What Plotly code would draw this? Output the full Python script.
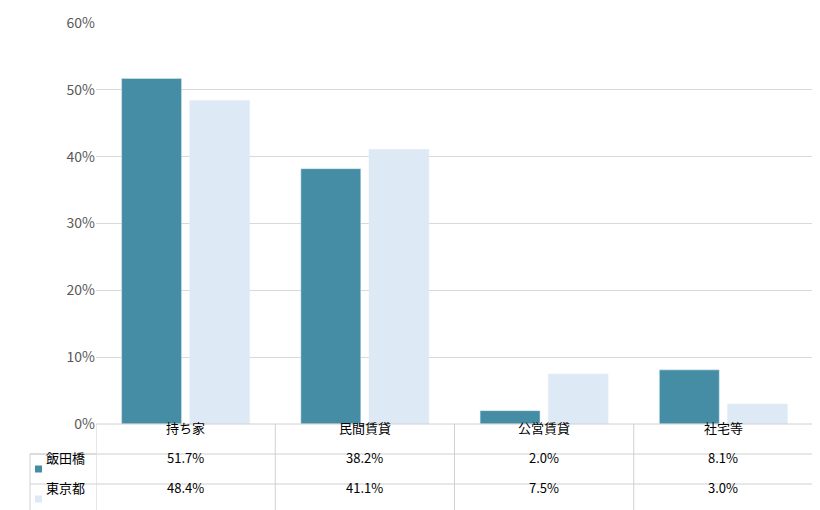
import plotly.graph_objects as go

categories = ["持ち家", "民間賃貸", "公営賃貸", "社宅等"]
series_names = ["飯田橋", "東京都"]
iidabashi = [51.7, 38.2, 2.0, 8.1]
tokyo = [48.4, 41.1, 7.5, 3.0]
colors = ["#458DA5", "#DDEAF5"]
font = "Noto Sans CJK JP"

x = list(range(len(categories)))
fig = go.Figure()
for name, vals, c in zip(series_names, [iidabashi, tokyo], colors):
    fig.add_bar(x=x, y=vals, name=name, marker_color=c, showlegend=False)

W, H = 820, 510
ml, mr, mt, mb = 88, 15, 15, 94
ph = H - mt - mb
pw = W - ml - mr
rowh = 30 / ph
left = (22 - ml) / pw
line = dict(color="#D0D0D0", width=1)
shapes = []
for i in range(4):
    y = -i * rowh
    x0 = 0 if i == 0 else left
    shapes.append(dict(type="line", xref="paper", yref="paper", x0=x0, x1=1, y0=y, y1=y, line=line))
shapes.append(dict(type="line", xref="paper", yref="paper", x0=left, x1=0, y0=-rowh, y1=-rowh, line=line))
for k in range(len(categories) + 1):
    xv = k - 0.5
    shapes.append(dict(type="line", xref="x", yref="paper", x0=xv, x1=xv, y0=0, y1=-3 * rowh, line=line))
shapes.append(dict(type="line", xref="paper", yref="paper", x0=left, x1=left, y0=-rowh, y1=-3 * rowh, line=line))

ann = []
for i, c in enumerate(categories):
    ann.append(dict(x=i, y=-0.5 * rowh, xref="x", yref="paper", text=c, showarrow=False,
                    font=dict(size=13, color="#000")))
for r, (name, vals, col) in enumerate(zip(series_names, [iidabashi, tokyo], colors)):
    yc = -(1.5 + r) * rowh
    for i, v in enumerate(vals):
        ann.append(dict(x=i, y=yc, xref="x", yref="paper", text=f"{v:.1f}%", showarrow=False,
                        font=dict(size=13, color="#000")))
    ann.append(dict(x=left + 14 / pw, y=yc, xref="paper", yref="paper", xanchor="left", text=name,
                    showarrow=False, font=dict(size=13, color="#000")))
    shapes.append(dict(type="rect", xref="paper", yref="paper", x0=left + 5 / pw, x1=left + 12 / pw,
                       y0=yc - 3.5 / ph, y1=yc + 3.5 / ph, fillcolor=col, line=dict(width=0)))

fig.update_layout(
    width=W, height=H, margin=dict(l=ml, r=mr, t=mt, b=mb, autoexpand=False),
    plot_bgcolor="white", paper_bgcolor="white",
    font=dict(family=font, size=13, color="#595959"),
    barmode="group", bargap=0.24, bargroupgap=0.12,
    xaxis=dict(range=[-0.5, 3.5], showticklabels=False, showgrid=False, zeroline=False, automargin=False),
    yaxis=dict(range=[0, 60], dtick=10, ticksuffix="%", gridcolor="#D9D9D9", zeroline=False,
               automargin=False, tickfont=dict(size=14, color="#595959")),
    shapes=shapes, annotations=ann,
)
fig.write_html("out.html")
